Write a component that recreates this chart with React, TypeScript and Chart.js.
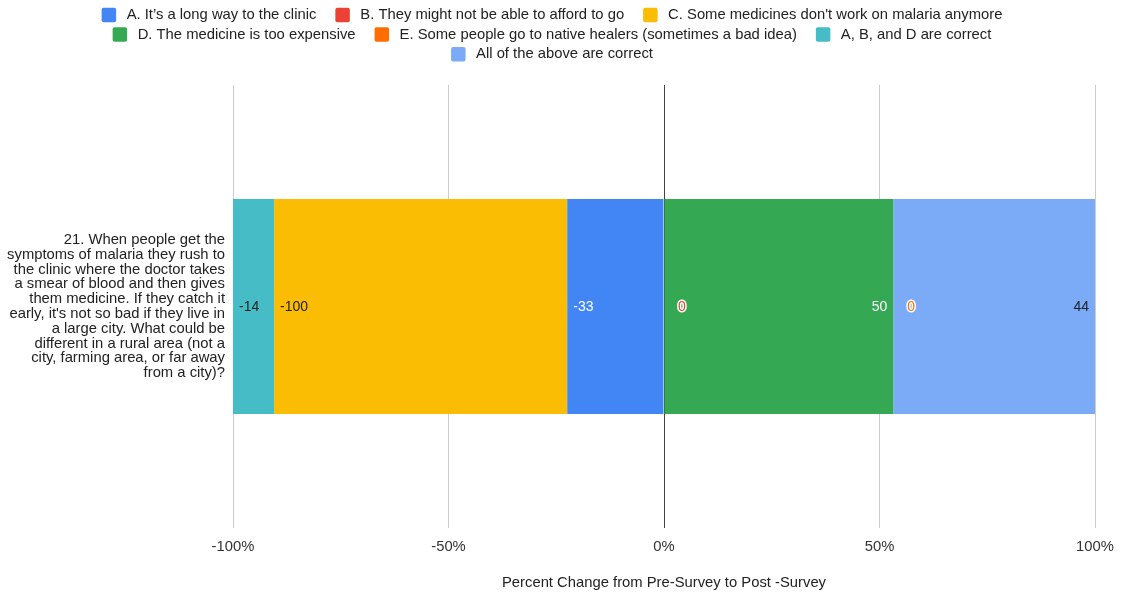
import { useEffect, useRef } from "react";
import { Chart, registerables } from "chart.js";

Chart.register(...registerables);

// Question shown as the single category (one line per array entry)
const QUESTION_LINES = [
  "21. When people get the",
  "symptoms of malaria they rush to",
  "the clinic where the doctor takes",
  "a smear of blood and then gives",
  "them medicine. If they catch it",
  "early, it's not so bad if they live in",
  "a large city. What could be",
  "different in a rural area (not a",
  "city, farming area, or far away",
  "from a city)?",
];

const SERIES_NAMES = [
  "A. It\u2019s a long way to the clinic",
  "B. They might not be able to afford to go",
  "C. Some medicines don't work on malaria anymore",
  "D. The medicine is too expensive",
  "E. Some people go to native healers (sometimes a bad idea)",
  "A, B, and D are correct",
  "All of the above are correct",
];

// Percent change per answer option
const SERIES_VALUES = [-33, 0, -100, 50, 0, -14, 44];

const SERIES_COLORS = ["#4285F4", "#EA4335", "#FBBC04", "#34A853", "#FF6D01", "#46BDC6", "#7BAAF7"];
const LABEL_COLORS = ["#ffffff", "#EA4335", "#222222", "#ffffff", "#FF6D01", "#222222", "#222222"];

const X_TICKS = [-100, -50, 0, 50, 100];
const X_TITLE = "Percent Change from Pre-Survey to Post -Survey";

const FONT = '"Liberation Sans", Arial, Helvetica, sans-serif';
const TEXT_SIZE = 14.8;

// Each side (negative / positive) is normalised to 100% of its own total
const negTotal = SERIES_VALUES.filter((v) => v < 0).reduce((a, v) => a - v, 0);
const posTotal = SERIES_VALUES.filter((v) => v > 0).reduce((a, v) => a + v, 0);
const shares = SERIES_VALUES.map((v) =>
  v < 0 ? (v / negTotal) * 100 : posTotal ? (v / posTotal) * 100 : 0
);

const legendPlugin = {
  id: "sheetLegend",
  afterDraw(chart: any) {
    const ctx = chart.ctx;
    ctx.save();
    ctx.font = `${TEXT_SIZE}px ${FONT}`;
    ctx.textBaseline = "middle";
    const box = 14.5;
    const textOffset = 25;
    const itemGap = 19;
    const maxRow = 960;
    const items = SERIES_NAMES.map((name, i) => {
      const tw = ctx.measureText(name).width;
      return { name, i, w: textOffset + tw };
    });
    const rows: any[][] = [];
    let cur: any[] = [];
    let curW = 0;
    items.forEach((it) => {
      const add = (cur.length ? itemGap : 0) + it.w;
      if (cur.length && curW + add > maxRow) {
        rows.push(cur);
        cur = [];
        curW = 0;
      }
      curW += cur.length ? itemGap + it.w : it.w;
      cur.push(it);
    });
    if (cur.length) rows.push(cur);
    const cx = 552;
    rows.forEach((row, r) => {
      const total = row.reduce((a, it) => a + it.w, 0) + itemGap * (row.length - 1);
      let x = cx - total / 2;
      const y = 15 + r * 19.6;
      row.forEach((it) => {
        ctx.fillStyle = SERIES_COLORS[it.i];
        ctx.beginPath();
        ctx.roundRect(x, y - box / 2, box, box, 2);
        ctx.fill();
        ctx.fillStyle = "#222222";
        ctx.textAlign = "left";
        ctx.fillText(it.name, x + textOffset, y);
        x += it.w + itemGap;
      });
    });
    ctx.restore();
  },
};

const barLabelPlugin = {
  id: "barValueLabels",
  afterDatasetsDraw(chart: any) {
    const ctx = chart.ctx;
    const xScale = chart.scales.x;
    ctx.save();
    ctx.font = `14px ${FONT}`;
    ctx.textBaseline = "middle";
    chart.data.datasets.forEach((_ds: any, i: number) => {
      const meta = chart.getDatasetMeta(i);
      meta.data.forEach((el: any) => {
        const { x, y, base } = el.getProps(["x", "y", "base"], true);
        const raw = SERIES_VALUES[i];
        const text = String(raw);
        let tx: number;
        if (raw < 0) {
          tx = Math.min(x, base) + 6;
          ctx.textAlign = "left";
        } else if (raw > 0) {
          tx = Math.max(x, base) - 6;
          ctx.textAlign = "right";
        } else {
          // zero values sit at the end of the positive stack built so far
          let acc = 0;
          for (let j = 0; j < i; j++) if (SERIES_VALUES[j] > 0) acc += shares[j];
          tx = xScale.getPixelForValue(acc) + 14;
          ctx.textAlign = "left";
        }
        if (raw === 0) {
          ctx.lineWidth = 3;
          ctx.lineJoin = "round";
          ctx.strokeStyle = "#ffffff";
          ctx.strokeText(text, tx, y + 1);
        }
        ctx.fillStyle = LABEL_COLORS[i];
        ctx.fillText(text, tx, y + 1);
      });
    });
    ctx.restore();
  },
};

export default function App() {
  const canvasRef = useRef<HTMLCanvasElement | null>(null);

  useEffect(() => {
    if (!canvasRef.current) return;
    Chart.defaults.font.family = FONT;
    const chart = new Chart(canvasRef.current, {
      type: "bar",
      data: {
        labels: [QUESTION_LINES],
        datasets: SERIES_NAMES.map((name, i) => ({
          label: name,
          data: [shares[i]],
          backgroundColor: SERIES_COLORS[i],
          borderWidth: 0,
          barPercentage: 1,
          categoryPercentage: 0.485,
        })),
      },
      options: {
        indexAxis: "y",
        responsive: true,
        maintainAspectRatio: false,
        animation: false,
        layout: { padding: { top: 85, right: 28, bottom: 0, left: 0 } },
        plugins: {
          legend: { display: false },
          tooltip: { enabled: false },
        },
        scales: {
          x: {
            stacked: true,
            min: X_TICKS[0],
            max: X_TICKS[X_TICKS.length - 1],
            afterBuildTicks: (scale: any) => {
              scale.ticks = X_TICKS.map((v) => ({ value: v }));
            },
            afterFit: (scale: any) => {
              scale.height = 65;
              scale.paddingLeft = 0;
              scale.paddingRight = 0;
            },
            ticks: {
              callback: (v: any) => `${v}%`,
              font: { size: TEXT_SIZE },
              color: "#333333",
              padding: 10,
              maxRotation: 0,
            },
            grid: {
              drawTicks: false,
              color: (c: any) => (c.tick && c.tick.value === 0 ? "#444444" : "#cccccc"),
              lineWidth: 1,
            },
            border: { display: false },
            title: {
              display: true,
              text: X_TITLE,
              font: { size: TEXT_SIZE },
              color: "#222222",
              padding: { top: 4, bottom: 1 },
            },
          },
          y: {
            stacked: true,
            afterFit: (scale: any) => {
              scale.width = 233;
              scale.paddingTop = 0;
              scale.paddingBottom = 0;
            },
            ticks: {
              font: { size: TEXT_SIZE, lineHeight: 1.0 },
              color: "#222222",
              padding: 8,
            },
            grid: { display: false, drawTicks: false },
            border: { display: false },
          },
        },
      },
      plugins: [legendPlugin, barLabelPlugin],
    });
    return () => chart.destroy();
  }, []);

  return (
    <div
      style={{
        position: "fixed",
        left: 0,
        top: 0,
        width: 1123,
        height: 593,
        background: "#ffffff",
      }}
    >
      <canvas ref={canvasRef} />
    </div>
  );
}
